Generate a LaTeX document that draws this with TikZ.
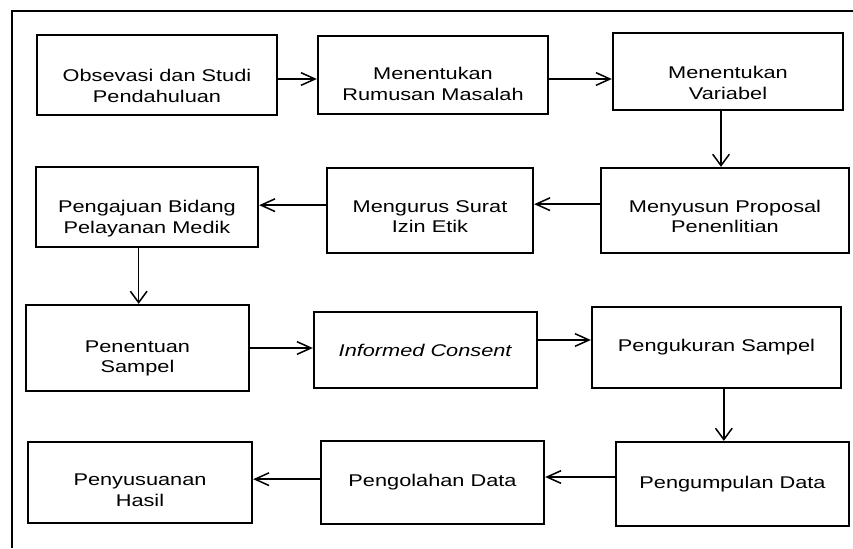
\documentclass[tikz,border=0pt]{standalone}
\usepackage{fontspec}
\setmainfont{Liberation Sans}[FakeStretch=1.28]
\usetikzlibrary{arrows.meta}

% two-line text, set a little below the middle of its box
\newcommand{\lowtext}[2][0.3cm]{\raisebox{-#1}[\height][\depth]{\begin{tabular}{@{}c@{}}#2\end{tabular}}}

\begin{document}
\begin{tikzpicture}[
    x=0.03cm, y=-0.03cm,
    stage/.style={rectangle, draw, line width=2pt, inner sep=0pt, text centered, font=\fontsize{14.5}{17.5}\selectfont},
    hflow/.style={line width=1.3pt, -{Straight Barb[length=0.42cm, width=0.38cm, line width=1.3pt]}},
    vflow/.style={line width=1.3pt, -{Straight Barb[length=0.34cm, width=0.5cm, line width=1.3pt]}},
    frame/.style={line width=2.5pt}
  ]
    \useasboundingbox (0,0) rectangle (853,548);

    % Frame
    \draw[frame] (12,548) -- (12,11) -- (853,11);

    % Row 1
    \node[stage, minimum width=7.2cm, minimum height=2.4cm] (obs) at (157,75) {\lowtext[0.38cm]{Obsevasi dan Studi\\Pendahuluan}};
    \node[stage, minimum width=6.9cm, minimum height=2.34cm] (rumus) at (433,75) {\lowtext[0.33cm]{Menentukan\\Rumusan Masalah}};
    \node[stage, minimum width=6.9cm, minimum height=2.31cm] (var) at (728,71.5) {\lowtext[0.4cm]{Menentukan\\Variabel}};

    % Row 2
    \node[stage, minimum width=7.44cm, minimum height=2.55cm] (prop) at (725,210.5) {\lowtext[0.24cm]{Menyusun Proposal\\Penenlitian}};
    \node[stage, minimum width=6.18cm, minimum height=2.55cm] (izin) at (430,210.5) {\lowtext[0.24cm]{Mengurus Surat\\Izin Etik}};
    \node[stage, minimum width=6.66cm, minimum height=2.4cm] (bidang) at (147,207) {\lowtext[0.36cm]{Pengajuan Bidang\\Pelayanan Medik}};

    % Row 3
    \node[stage, minimum width=6.69cm, minimum height=2.58cm] (sampel) at (137.5,348) {\lowtext[0.31cm]{Penentuan\\Sampel}};
    \node[stage, minimum width=6.69cm, minimum height=2.28cm] (consent) at (425.5,350) {\textit{Informed Consent}};
    \node[stage, minimum width=7.47cm, minimum height=2.43cm] (ukur) at (716.5,347.5) {Pengukuran Sampel};

    % Row 4
    \node[stage, minimum width=6.99cm, minimum height=2.52cm] (kumpul) at (732.5,484) {Pengumpulan Data};
    \node[stage, minimum width=6.69cm, minimum height=2.49cm] (olah) at (432.5,482.5) {Pengolahan Data};
    \node[stage, minimum width=6.72cm, minimum height=2.43cm] (hasil) at (140,482.5) {\lowtext[0.28cm]{Penyusuanan\\Hasil}};

    % Arrows
    \draw[hflow] ([yshift=-0.12cm]obs.east) -- ([yshift=-0.12cm]obs.east -| rumus.west);
    \draw[hflow] ([yshift=-0.12cm]rumus.east) -- ([yshift=-0.12cm]rumus.east -| var.west);
    \draw[vflow] ([xshift=-0.21cm]var.south) -- ([xshift=-0.21cm]var.south |- prop.north);
    \draw[hflow] ([yshift=0.19cm]prop.west) -- ([yshift=0.19cm]prop.west -| izin.east);
    \draw[hflow] ([yshift=0.16cm]izin.west) -- ([yshift=0.16cm]izin.west -| bidang.east);
    \draw[vflow] ([xshift=-0.25cm]bidang.south) -- ([xshift=-0.25cm]bidang.south |- sampel.north);
    \draw[hflow] (sampel.east) -- (sampel.east -| consent.west);
    \draw[hflow] ([yshift=0.3cm]consent.east) -- ([yshift=0.3cm]consent.east -| ukur.west);
    \draw[vflow] ([xshift=0.22cm]ukur.south) -- ([xshift=0.22cm]ukur.south |- kumpul.north);
    \draw[hflow] ([yshift=0.21cm]kumpul.west) -- ([yshift=0.21cm]kumpul.west -| olah.east);
    \draw[hflow] ([yshift=0.1cm]olah.west) -- ([yshift=0.1cm]olah.west -| hasil.east);
\end{tikzpicture}
\end{document}
